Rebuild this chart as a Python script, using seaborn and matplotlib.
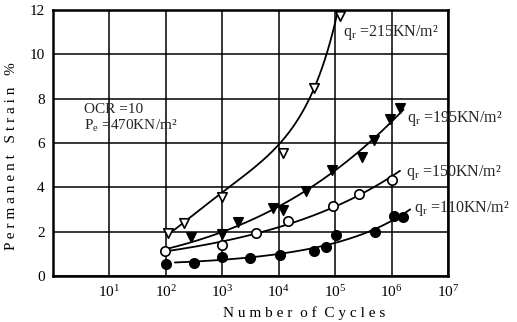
import numpy as np
import pandas as pd
import matplotlib
matplotlib.use("Agg")
import matplotlib.pyplot as plt
import seaborn as sns

# ---- data (log10 of cycles, permanent strain %) ----
q215_logn = [2.03, 2.33, 3.00, 4.07, 4.62, 5.09]
q215_eps = [1.93, 2.40, 3.58, 5.55, 8.47, 11.73]

q195_logn = [2.44, 3.00, 3.28, 3.90, 4.08, 4.48, 4.94, 5.48, 5.69, 5.97, 6.15]
q195_eps = [1.75, 1.88, 2.45, 3.05, 2.98, 3.85, 4.80, 5.38, 6.13, 7.07, 7.56]

q150_logn = [1.99, 2.99, 3.60, 4.17, 4.96, 5.42, 6.00]
q150_eps = [1.12, 1.38, 1.93, 2.46, 3.18, 3.70, 4.33]

q110_logn = [2.00, 2.49, 3.00, 3.50, 4.02, 4.63, 4.83, 5.02, 5.71, 6.04, 6.20]
q110_eps = [0.54, 0.57, 0.84, 0.83, 0.95, 1.12, 1.33, 1.85, 2.00, 2.70, 2.68]

# hand-drawn trend curve of the 215 series
q215_curve_logn = [2.03, 2.52, 2.99, 3.51, 4.02, 4.39, 4.63, 4.86, 4.95, 5.04]
q215_curve_eps = [1.85, 2.83, 3.73, 4.78, 6.01, 7.34, 8.39, 9.97, 10.95, 12.0]

# extents of the fitted curves (log10 N) and their starting strain
curve_start = [2.03, 2.00, 2.00, 2.16]
curve_start_eps = [1.85, 1.20, 1.12, 0.62]
curve_end = [5.06, 6.21, 6.15, 6.33]

labels = ["215", "195", "150", "110"]
label_logn = [5.14, 6.27, 6.25, 6.40]
label_eps = [11.0, 7.1, 4.66, 3.04]

x_ticks = [1, 2, 3, 4, 5, 6, 7]
y_ticks = [0, 2, 4, 6, 8, 10, 12]

sns.set_theme(style="white")
plt.rcParams["font.family"] = ["Liberation Serif", "DejaVu Serif"]
plt.rcParams["mathtext.fontset"] = "custom"
plt.rcParams["mathtext.rm"] = "Liberation Serif"
plt.rcParams["mathtext.it"] = "Liberation Serif:italic"

fig = plt.figure(figsize=(5.17, 3.22), dpi=100)
ax = fig.add_axes([53 / 517, 1 - 276 / 322, (448 - 53) / 517, (276 - 10) / 322])
ax.set_xscale("log")

series = [
    (q215_logn, q215_eps, "v", "white"),
    (q195_logn, q195_eps, "v", "black"),
    (q150_logn, q150_eps, "o", "white"),
    (q110_logn, q110_eps, "o", "black"),
]

for i, (lx, ey, mk, fc) in enumerate(series):
    lx = np.array(lx)
    ey = np.array(ey)
    if i == 0:
        fx = np.array(q215_curve_logn)
        fy = np.array(q215_curve_eps)
        coef = np.polyfit(fx, np.log(fy), 3)
    else:
        fx = np.append(lx, curve_start[i])
        fy = np.append(ey, curve_start_eps[i])
        w = np.ones(len(fx))
        w[-1] = 3.0
        coef = np.polyfit(fx, np.log(fy), 2, w=w)
    xs = np.linspace(curve_start[i], curve_end[i], 200)
    ys = np.exp(np.polyval(coef, xs))
    keep = ys <= 12.05
    df_line = pd.DataFrame({"n": 10 ** xs[keep], "e": ys[keep]})
    sns.lineplot(data=df_line, x="n", y="e", ax=ax, color="black", lw=1.3,
                 sort=False, estimator=None)
    df_pts = pd.DataFrame({"n": 10 ** lx, "e": ey})
    sns.scatterplot(data=df_pts, x="n", y="e", ax=ax, marker=mk, s=46,
                    facecolor=fc, edgecolor="black", linewidth=1.2, zorder=5,
                    clip_on=False)
    ax.text(10 ** label_logn[i], label_eps[i],
            r"q$_{\mathrm{r}}$ =" + labels[i] + "KN/m²",
            fontsize=11.5, va="center", ha="left", clip_on=False)

ax.text(10 ** 0.55, 7.52, "OCR =10", fontsize=11, va="center", ha="left")
ax.text(10 ** 0.55, 6.78, r"P$_{\mathrm{e}}$ =470KN/m²", fontsize=11,
        va="center", ha="left")

ax.set_xlim(1, 1e7)
ax.set_ylim(0, 12)
ax.set_xticks([10 ** t for t in x_ticks])
ax.set_xticklabels([r"10$^{%d}$" % t for t in x_ticks])
ax.xaxis.set_minor_locator(matplotlib.ticker.NullLocator())
ax.set_yticks(y_ticks)
ax.set_yticklabels([str(t) for t in y_ticks])
ax.tick_params(axis="both", length=0, labelsize=11, colors="black", pad=6)
ax.grid(True, color="black", lw=1.1)
for sp in ax.spines.values():
    sp.set_color("black")
    sp.set_linewidth(1.8)

ax.set_xlabel("N u m b e r  o f  C y c l e s", fontsize=11, color="black")
ax.set_ylabel("P e r m a n e n t   S t r a i n   %", fontsize=11,
              color="black")
ax.xaxis.set_label_coords(0.635, -0.115)
ax.yaxis.set_label_coords(-0.088, 0.45)

fig.savefig("out.png", dpi=100)
